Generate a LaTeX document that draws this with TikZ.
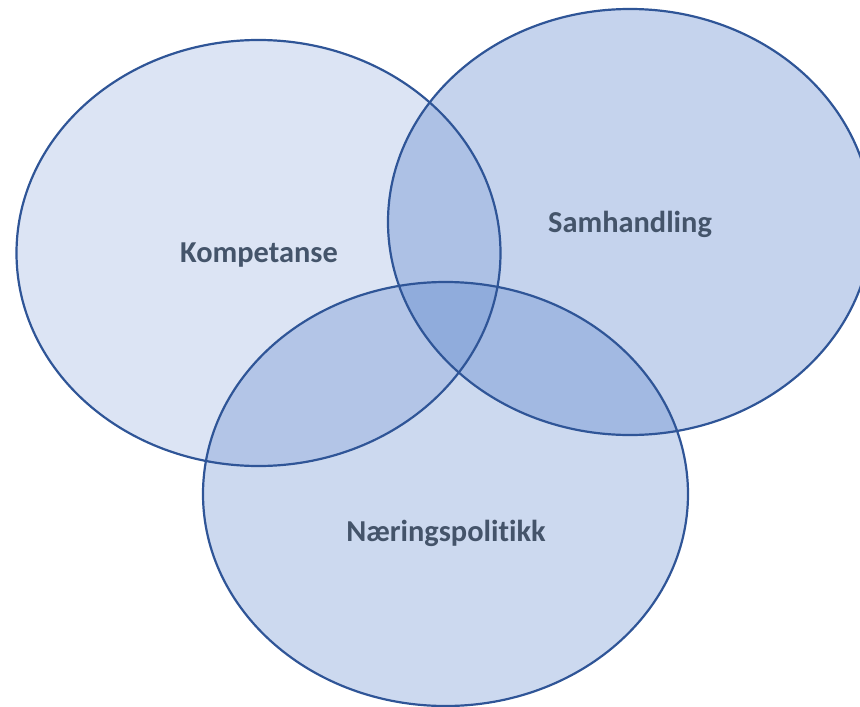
\documentclass[tikz,border=0pt]{standalone}
\usepackage{fontspec}
\setmainfont[Ligatures={NoCommon}]{Carlito}
\definecolor{accent}{HTML}{4472C4}
\definecolor{outline}{HTML}{2F5597}
\definecolor{txt}{HTML}{44546A}
\begin{document}
\begin{tikzpicture}[x=1pt,y=-1pt,
  ring/.style={draw=outline,line width=2.2pt},
  lbl/.style={text=txt,font=\fontsize{30.4}{36}\selectfont\bfseries,inner sep=0pt}]
\useasboundingbox (0,0) rectangle (860,707);
\clip (0,0) rectangle (860,707);
% fills
\fill[accent,fill opacity=0.19] (258.5,253) ellipse [x radius=242pt, y radius=213pt];
\fill[accent,fill opacity=0.31] (630,222) ellipse [x radius=242pt, y radius=213pt];
\fill[accent,fill opacity=0.27] (445.5,494) ellipse [x radius=242.5pt, y radius=212pt];
% outlines
\draw[ring] (258.5,253) ellipse [x radius=242pt, y radius=213pt];
\draw[ring] (630,222) ellipse [x radius=242pt, y radius=213pt];
\draw[ring] (445.5,494) ellipse [x radius=242.5pt, y radius=212pt];
% labels
\node[lbl] (komp) at (259,255) {Kompetanse};
\node[lbl] (samh) at (630,224) {Samhandling};
\node[lbl] (naer) at (446,533) {Næringspolitikk};
\end{tikzpicture}
\end{document}
